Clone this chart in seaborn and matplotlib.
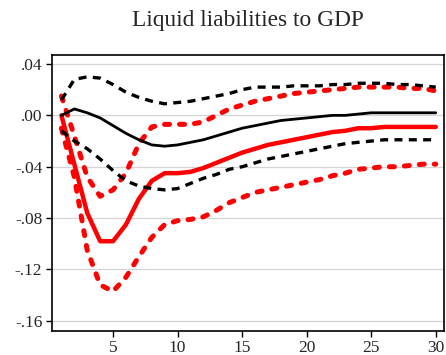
import matplotlib
matplotlib.use("Agg")
import matplotlib.pyplot as plt
import seaborn as sns
import numpy as np
import pandas as pd

periods = list(range(1, 31))
black_mid = [0.000, 0.005, 0.002, -0.002, -0.008, -0.014, -0.019, -0.023, -0.024, -0.023,
             -0.021, -0.019, -0.016, -0.013, -0.010, -0.008, -0.006, -0.004, -0.003, -0.002,
             -0.001, 0.000, 0.000, 0.001, 0.002, 0.002, 0.002, 0.002, 0.002, 0.002]
black_up = [0.012, 0.028, 0.030, 0.029, 0.024, 0.018, 0.014, 0.011, 0.009, 0.010,
            0.011, 0.013, 0.015, 0.017, 0.020, 0.022, 0.022, 0.022, 0.023, 0.023,
            0.023, 0.024, 0.024, 0.025, 0.025, 0.025, 0.024, 0.024, 0.023, 0.022]
black_lo = [-0.012, -0.020, -0.026, -0.034, -0.043, -0.051, -0.055, -0.057, -0.058, -0.057,
            -0.053, -0.049, -0.046, -0.042, -0.040, -0.037, -0.034, -0.032, -0.030, -0.028,
            -0.026, -0.024, -0.022, -0.021, -0.020, -0.019, -0.019, -0.019, -0.019, -0.019]
red_mid = [0.000, -0.038, -0.076, -0.098, -0.098, -0.085, -0.065, -0.051, -0.045, -0.045,
           -0.044, -0.041, -0.037, -0.033, -0.029, -0.026, -0.023, -0.021, -0.019, -0.017,
           -0.015, -0.013, -0.012, -0.010, -0.010, -0.009, -0.009, -0.009, -0.009, -0.009]
red_up = [0.015, -0.016, -0.048, -0.063, -0.058, -0.045, -0.022, -0.009, -0.007, -0.007,
          -0.007, -0.005, 0.000, 0.005, 0.008, 0.011, 0.013, 0.015, 0.017, 0.018,
          0.019, 0.020, 0.021, 0.022, 0.022, 0.022, 0.022, 0.021, 0.021, 0.019]
red_lo = [-0.010, -0.048, -0.105, -0.132, -0.137, -0.126, -0.110, -0.095, -0.085, -0.082,
          -0.081, -0.079, -0.074, -0.068, -0.064, -0.060, -0.058, -0.056, -0.054, -0.052,
          -0.050, -0.047, -0.045, -0.042, -0.041, -0.040, -0.040, -0.039, -0.038, -0.038]

y_ticks = [0.04, 0.00, -0.04, -0.08, -0.12, -0.16]
y_labels = [".04", ".00", "-.04", "-.08", "-.12", "-.16"]
x_ticks = [5, 10, 15, 20, 25, 30]

sns.set_style("white")
plt.rcParams['font.family'] = ['Liberation Serif', 'DejaVu Serif']

fig = plt.figure(figsize=(4.46, 3.55), dpi=100)
ax = fig.add_axes([52/446, 1-330.5/355, (443.5-52)/446, (330.5-55)/355])

for yv in y_ticks:
    ax.axhline(yv, color="#d4d4d4", lw=0.9, zorder=0)

df = pd.DataFrame({"period": periods, "black_mid": black_mid, "black_up": black_up,
                   "black_lo": black_lo, "red_mid": red_mid, "red_up": red_up, "red_lo": red_lo})

red_dash = dict(color="#ff0000", lw=3.6, linestyle=(0, (1.0, 2.0)), dash_capstyle="round", zorder=3)
blk_dash = dict(color="#000000", lw=2.4, linestyle=(0, (2.4, 1.9)), zorder=5)
sns.lineplot(data=df, x="period", y="red_up", ax=ax, **red_dash)
sns.lineplot(data=df, x="period", y="red_lo", ax=ax, **red_dash)
sns.lineplot(data=df, x="period", y="red_mid", ax=ax, color="#ff0000", lw=3.2, zorder=4)
sns.lineplot(data=df, x="period", y="black_up", ax=ax, **blk_dash)
sns.lineplot(data=df, x="period", y="black_lo", ax=ax, **blk_dash)
sns.lineplot(data=df, x="period", y="black_mid", ax=ax, color="#000000", lw=2.0, zorder=6)

ax.set_xlim(0.27, 30.6)
ax.set_ylim(-0.1675, 0.047)
ax.set_yticks(y_ticks)
ax.set_yticklabels(y_labels)
ax.set_xticks(x_ticks)
ax.set_xlabel("")
ax.set_ylabel("")
ax.tick_params(axis="both", direction="out", length=4, width=1, labelsize=12.5, color="black", pad=3)
ax.tick_params(left=True, bottom=True)
for s in ax.spines.values():
    s.set_color("black")
    s.set_linewidth(1.2)

fig.text(0.555, 1-20.5/355, "Liquid liabilities to GDP", ha="center", va="center", fontsize=16.8)

fig.savefig("out.png", dpi=100)
